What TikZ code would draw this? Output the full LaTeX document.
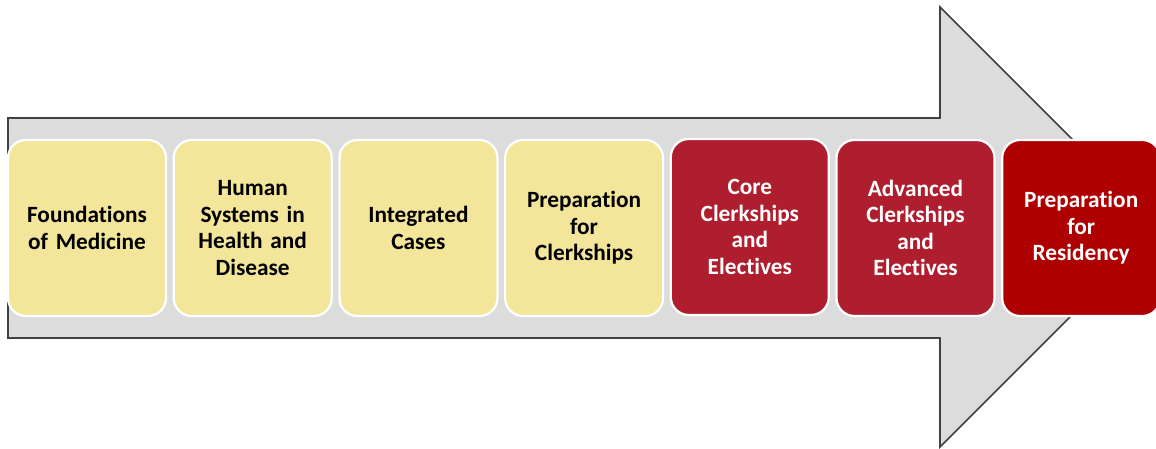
\documentclass[tikz,border=0pt]{standalone}
\usepackage{fontspec}
\setmainfont{Carlito}[Ligatures=NoCommon]
\definecolor{arrowgray}{RGB}{220,220,220}
\definecolor{arrowline}{RGB}{64,64,64}
\definecolor{paleyellow}{RGB}{243,229,153}
\definecolor{coralred}{RGB}{174,30,46}
\definecolor{deepred}{RGB}{174,0,0}
\newcommand{\stagefont}{\fontsize{23.3}{26.5}\selectfont\bfseries\fontdimen2\font=4.2pt\fontdimen3\font=0pt\fontdimen4\font=0pt}
\tikzset{
  stagebox/.style={draw=white, line width=2.2pt, rounded corners=18pt,
    minimum width=158pt, minimum height=176pt, inner sep=0pt,
    align=center, font=\stagefont, text width=154pt},
  earlybox/.style={stagebox, fill=paleyellow, text=black},
  latebox/.style={stagebox, fill=coralred, text=white},
  lastbox/.style={stagebox, fill=deepred, text=white}
}
\begin{document}
\begin{tikzpicture}[x=1pt,y=1pt]
\useasboundingbox (0,0) rectangle (1156,449);
\begin{scope}
\clip (0,0) rectangle (1156,449);
\draw[fill=arrowgray, draw=arrowline, line width=1.6pt, line join=miter]
  (8,111) -- (8,331) -- (940,331) -- (940,442) -- (1160,222) -- (940,2) -- (940,111) -- cycle;
\node[earlybox] (b1) at (87,221) {Foundations\\of Medicine};
\node[earlybox] (b2) at (252.7,221) {Human\\Systems in\\Health and\\Disease};
\node[earlybox] (b3) at (418.4,221) {Integrated\\Cases};
\node[earlybox] (b4) at (584.1,221) {Preparation\\for\\Clerkships};
\node[latebox] (b5) at (749.8,222) {Core\\Clerkships\\and\\Electives};
\node[latebox] (b6) at (915.5,221) {Advanced\\Clerkships\\and\\Electives};
\node[lastbox] (b7) at (1081.2,221) {Preparation\\for\\Residency};
\end{scope}
\end{tikzpicture}
\end{document}
